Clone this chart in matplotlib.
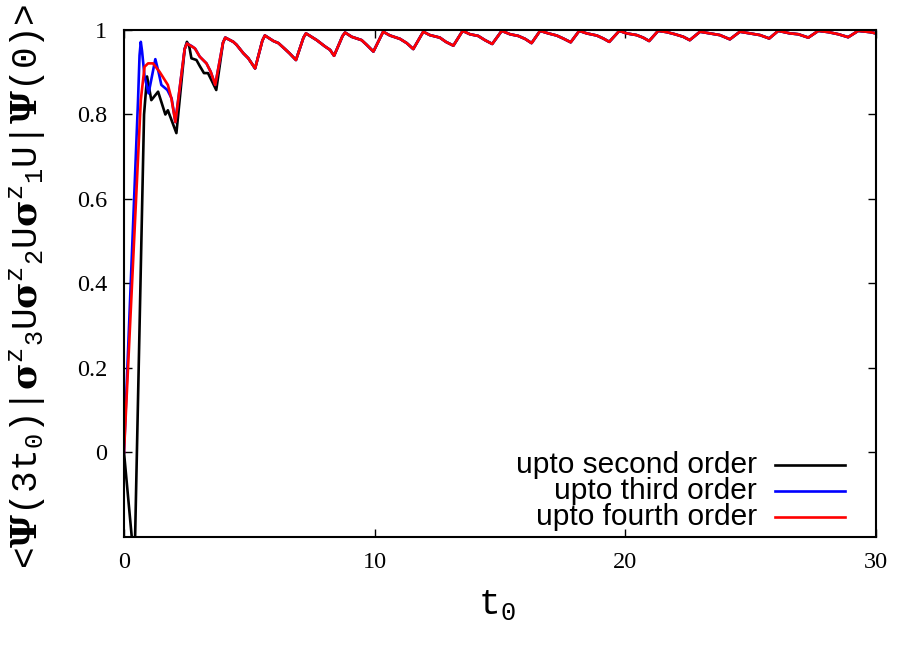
import matplotlib
matplotlib.use("Agg")
import matplotlib.pyplot as plt
from matplotlib.lines import Line2D

# ---------------- data ----------------
t_second = [0, 0.418, 0.8, 0.92, 1.09, 1.36, 1.65, 1.75, 2.09, 2.42, 2.51, 2.6, 2.69, 2.89,
            3.02, 3.19, 3.35, 3.5, 3.68, 3.95]
v_second = [0, -0.27, 0.80, 0.89, 0.834, 0.854, 0.80, 0.81, 0.756, 0.955, 0.972, 0.962, 0.933, 0.929,
            0.915, 0.898, 0.898, 0.88, 0.858, 0.97]

t_third = [0, 0.56, 0.62, 0.67, 0.72, 0.82, 0.98, 1.08, 1.25, 1.38, 1.49, 1.73, 1.9,
           2.05, 2.42, 2.51, 2.7, 2.85, 3.02, 3.29, 3.46, 3.64, 3.95]
v_third = [0, 0.834, 0.94, 0.972, 0.95, 0.89, 0.85, 0.88, 0.931, 0.90, 0.87, 0.858, 0.838,
           0.782, 0.955, 0.968, 0.962, 0.955, 0.937, 0.921, 0.901, 0.87, 0.97]

t_fourth = [0, 0.67, 0.82, 0.96, 1.16, 1.42, 1.75, 1.89, 2.05, 2.42, 2.51, 2.82, 3.02, 3.29,
            3.46, 3.64, 3.95]
v_fourth = [0, 0.834, 0.913, 0.921, 0.921, 0.901, 0.87, 0.838, 0.782, 0.955, 0.968, 0.957, 0.937,
            0.921, 0.901, 0.87, 0.97]

# common long-time part (all three orders coincide)
t_tail = [4.04, 4.36, 4.49, 4.76, 4.96, 5.23, 5.52, 5.62, 5.96, 6.16, 6.42, 6.6, 6.86,
          7.16, 7.26, 7.69, 8.02, 8.22, 8.38, 8.72, 8.82, 9.08, 9.48, 9.68, 9.95,
          10.34, 10.61, 11.01, 11.28, 11.54, 11.94, 12.2, 12.6, 12.84, 13.14,
          13.51, 13.8, 14.13, 14.4, 14.69, 15.07, 15.4, 15.73, 16.0, 16.26,
          16.6, 16.93, 17.26, 17.52, 17.82, 18.16, 18.46, 18.86, 19.12, 19.36,
          19.76, 20.05, 20.45, 20.71, 20.95, 21.31, 21.65, 21.98, 22.31, 22.57,
          22.98, 23.37, 23.77, 24.17, 24.57, 24.97, 25.37, 25.74, 26.1, 26.57,
          26.9, 27.3, 27.7, 28.1, 28.5, 28.89, 29.29, 29.76, 30.0]
v_tail = [0.982, 0.972, 0.965, 0.945, 0.933, 0.909, 0.975, 0.987, 0.974, 0.969, 0.955, 0.945, 0.929,
          0.982, 0.992, 0.976, 0.961, 0.953, 0.939, 0.986, 0.994, 0.984, 0.976, 0.965, 0.949,
          0.996, 0.987, 0.979, 0.969, 0.955, 0.996, 0.988, 0.982, 0.972, 0.963,
          0.998, 0.990, 0.986, 0.976, 0.967, 0.998, 0.990, 0.986, 0.979, 0.969,
          0.998, 0.992, 0.987, 0.980, 0.971, 0.998, 0.992, 0.987, 0.980, 0.972,
          0.998, 0.992, 0.988, 0.982, 0.974, 0.998, 0.995, 0.990, 0.984, 0.976,
          0.996, 0.992, 0.988, 0.978, 0.996, 0.992, 0.988, 0.980, 0.998, 0.992,
          0.990, 0.982, 0.998, 0.995, 0.990, 0.983, 0.998, 0.995, 0.992]

labels = ["upto second order", "upto third order", "upto fourth order"]
colors = ["#000000", "#0000ff", "#ff0000"]

x_ticks = [0, 10, 20, 30]
x_ticklabels = ["0", "10", "20", "30"]
y_ticks = [0, 0.2, 0.4, 0.6, 0.8, 1.0]
y_ticklabels = ["0", "0.2", "0.4", "0.6", "0.8", "1"]

# ---------------- figure ----------------
plt.rcParams["mathtext.fontset"] = "custom"
plt.rcParams["mathtext.rm"] = "Liberation Mono"
plt.rcParams["mathtext.it"] = "Liberation Mono"
plt.rcParams["mathtext.tt"] = "Liberation Mono"
plt.rcParams["mathtext.bf"] = "DejaVu Serif:bold"

fig = plt.figure(figsize=(9.21, 6.45), dpi=100)
ax = fig.add_axes([124 / 921, 1 - 537 / 645, 752 / 921, 507 / 645])

series = [(t_second + t_tail, v_second + v_tail),
          (t_third + t_tail, v_third + v_tail),
          (t_fourth + t_tail, v_fourth + v_tail)]
for (tt, vv), c in zip(series, colors):
    ax.plot(tt, vv, color=c, lw=1.9, solid_joinstyle="round")

ax.set_xlim(0, 30)
ax.set_ylim(-0.2, 1.0)
ax.set_xticks(x_ticks)
ax.set_xticklabels(x_ticklabels)
ax.set_yticks(y_ticks)
ax.set_yticklabels(y_ticklabels)
for lab in ax.get_xticklabels() + ax.get_yticklabels():
    lab.set_fontfamily("Liberation Serif")
    lab.set_fontsize(17.5)
ax.tick_params(direction="in", length=6, width=1.0, top=True, right=True)
ax.tick_params(axis="x", pad=11)
ax.tick_params(axis="y", pad=12)
for sp in ax.spines.values():
    sp.set_linewidth(1.5)

# legend (gnuplot style: right-aligned text, sample on right)
rows = [0.142, 0.0907, 0.0394]
for lab, c, y in zip(labels, colors, rows):
    ax.text(0.8418, y, lab, transform=ax.transAxes, ha="right", va="center",
            fontsize=21.5, family="Liberation Sans")
    ax.add_line(Line2D([0.8657, 0.9588], [y, y], transform=ax.transAxes,
                       color=c, lw=1.9))

# axis labels
fig.text(497 / 921, 1 - 605 / 645, r"t$_0$", ha="center", va="center",
         fontsize=26, family="Liberation Mono")
ylab = (r"<$\mathbf{\Psi}$(3t$_0$)|$\mathbf{\sigma}^{z}{}_{3}$U"
        r"$\mathbf{\sigma}^{z}{}_{2}$U$\mathbf{\sigma}^{z}{}_{1}$U|$\mathbf{\Psi}$(0)>")
fig.text(27 / 921, 1 - 287 / 645, ylab, rotation=90, ha="center", va="center",
         fontsize=26, family="Liberation Mono")

fig.savefig("out.png", dpi=100)
